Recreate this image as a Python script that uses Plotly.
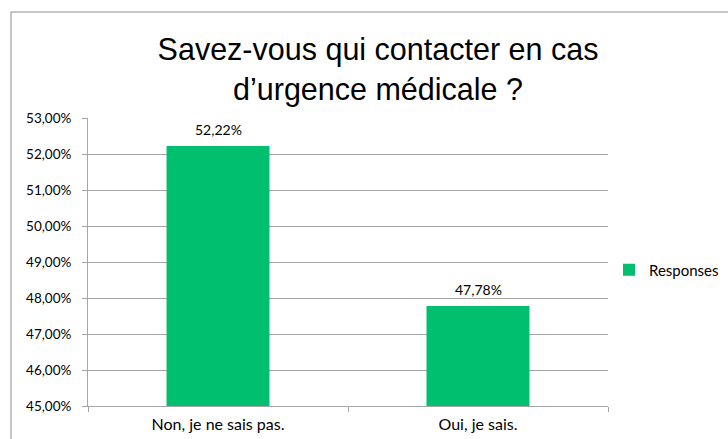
import plotly.graph_objects as go

categories = ["Non, je ne sais pas.", "Oui, je sais."]
values = [0.5222, 0.4778]
series_name = "Responses"
title_text = "Savez-vous qui contacter en cas<br>d’urgence médicale ?"

W, H = 728, 439
ml, mr, mt, mb = 88, 120, 118, 33
pw = W - ml - mr
ph = H - mt - mb

green = "#00BF6F"
grid = "#A6A6A6"
font_main = "Lato, Open Sans, sans-serif"

fig = go.Figure()
fig.add_trace(go.Bar(
    x=categories, y=values, name=series_name,
    marker=dict(color=green, line=dict(width=0)),
    width=0.396, showlegend=True,
))

for c, v in zip(categories, values):
    fig.add_annotation(x=c, y=v, text=f"{v*100:.2f}%".replace(".", ","),
                       showarrow=False, yanchor="bottom", yshift=6,
                       font=dict(family=font_main, size=14, color="#000"))

# outer frame
fx = (11 - ml) / pw
fy = (H - mb - 12) / ph
fig.add_shape(type="line", xref="paper", yref="paper", x0=fx, x1=fx, y0=-0.5, y1=fy,
              line=dict(color="#8C8C8C", width=1))
fig.add_shape(type="line", xref="paper", yref="paper", x0=fx, x1=1.5, y0=fy, y1=fy,
              line=dict(color="#8C8C8C", width=1))

fig.update_layout(
    width=W, height=H,
    margin=dict(l=ml, r=mr, t=mt, b=mb, autoexpand=False),
    paper_bgcolor="white", plot_bgcolor="white",
    separators=", ",
    title=dict(text=title_text, x=378 / W, xanchor="center", xref="container",
               y=1 - 60 / H, yanchor="middle", yref="container",
               font=dict(family="Liberation Sans, Arial, sans-serif", size=30.5, color="#000")),
    legend=dict(xref="container", yref="container", x=609 / W, y=1 - 270 / H,
                xanchor="left", yanchor="middle",
                font=dict(family=font_main, size=15, color="#000"),
                itemwidth=30, bgcolor="rgba(0,0,0,0)"),
    bargap=0.6,
)
fig.update_yaxes(range=[0.45, 0.53], dtick=0.01, tickformat=".2%",
                 showgrid=True, gridcolor=grid, gridwidth=1,
                 showline=True, linecolor=grid, linewidth=1,
                 ticks="outside", ticklen=5, tickcolor=grid, ticklabelstandoff=8,
                 tickfont=dict(family=font_main, size=13.5, color="#000"),
                 zeroline=False)
fig.update_xaxes(showline=True, linecolor=grid, linewidth=1,
                 ticks="outside", ticklen=5, tickcolor=grid, tickson="boundaries",
                 ticklabelstandoff=4,
                 tickfont=dict(family=font_main, size=16, color="#000"))

fig.write_html("out.html", config={"displayModeBar": False},
               post_script="document.body.style.margin='0';")
